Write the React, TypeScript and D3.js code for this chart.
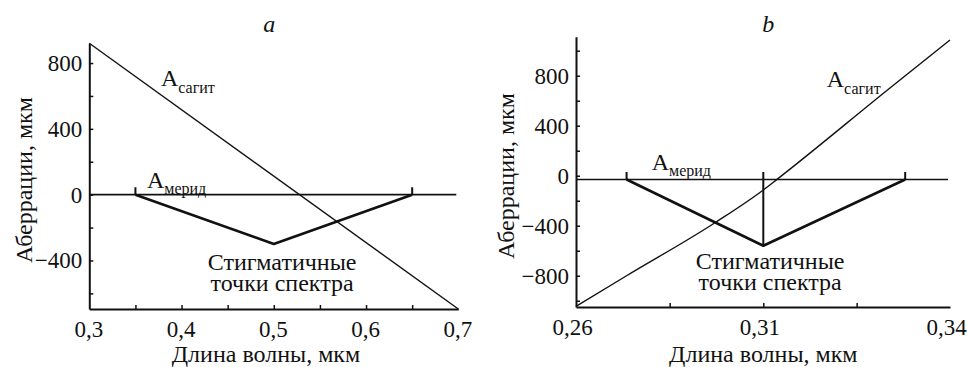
import { useEffect, useRef } from "react";
import * as d3 from "d3";

const SERIF = "Liberation Serif";
const INK = "#111";

// panel a data
const A_SAGIT_X = [0.3, 0.7];
const A_SAGIT_Y = [920, -695];
const A_MERID_X = [0.35, 0.5, 0.65];
const A_MERID_Y = [0, -300, 0];
const A_X_TICKS = [0.35, 0.4, 0.45, 0.5, 0.55, 0.6, 0.65];
const A_X_LABEL_VALUES = [0.3, 0.4, 0.5, 0.6, 0.7];
const A_X_LABELS = ["0,3", "0,4", "0,5", "0,6", "0,7"];
const A_Y_TICKS = [-600, -400, -200, 0, 200, 400, 600, 800];
const A_Y_LABEL_VALUES = [-400, 0, 400, 800];
const A_Y_LABELS = ["−400", "0", "400", "800"];

// panel b data
const B_SAGIT_X = [0.26, 0.2735, 0.2971, 0.31, 0.3122, 0.3306, 0.34];
const B_SAGIT_Y = [-1045, -800, -376, -114, -29, 712, 1086];
const B_MERID_X = [0.2735, 0.31, 0.3328];
const B_MERID_Y = [-30, -560, -30];
const B_X_TICKS = [0.285, 0.31, 0.325];
const B_X_LABEL_VALUES = [0.26, 0.31, 0.34];
const B_X_LABELS = ["0,26", "0,31", "0,34"];
const B_Y_TICKS = [-1000, -800, -600, -400, -200, 0, 200, 400, 600, 800, 1000];
const B_Y_LABEL_VALUES = [-800, -400, 0, 400, 800];
const B_Y_LABELS = ["−800", "−400", "0", "400", "800"];

const PANELS = [
  {
    title: "a",
    xDomain: [0.3, 0.7],
    xRange: [89.3, 458.3],
    yDomain: [-695, 920],
    yRange: [309, 43.3],
    sagitX: A_SAGIT_X,
    sagitY: A_SAGIT_Y,
    meridX: A_MERID_X,
    meridY: A_MERID_Y,
    base: 0,
    endTick: 45,
    centerTop: null as number | null,
    xTicks: A_X_TICKS,
    xLabelValues: A_X_LABEL_VALUES,
    xLabels: A_X_LABELS,
    xLabelShift: -1,
    yTicks: A_Y_TICKS,
    yLabelValues: A_Y_LABEL_VALUES,
    yLabels: A_Y_LABELS,
    titleX: 0.495,
    axisTitleX: 0.4915,
    yTitlePos: [32, 180],
    sagitLabel: [0.3777, 661],
    meridLabel: [0.3625, 40],
    stigLabel: [0.509, -458],
  },
  {
    title: "b",
    xDomain: [0.26, 0.31, 0.34],
    xRange: [576, 763.3, 950],
    yDomain: [-1050, 1112],
    yRange: [307, 36.7],
    sagitX: B_SAGIT_X,
    sagitY: B_SAGIT_Y,
    meridX: B_MERID_X,
    meridY: B_MERID_Y,
    base: -30,
    endTick: 30,
    centerTop: 30 as number | null,
    xTicks: B_X_TICKS,
    xLabelValues: B_X_LABEL_VALUES,
    xLabels: B_X_LABELS,
    xLabelShift: -4,
    yTicks: B_Y_TICKS,
    yLabelValues: B_Y_LABEL_VALUES,
    yLabels: B_Y_LABELS,
    titleX: 0.3108,
    axisTitleX: 0.31,
    yTitlePos: [514, 176],
    sagitLabel: [0.3202, 712],
    meridLabel: [0.2802, 46],
    stigLabel: [0.3111, -750],
  },
];

type Cfg = (typeof PANELS)[number];

const txt = (size: number, extra: Record<string, string> = {}) => ({
  fontFamily: SERIF,
  fontSize: `${size}px`,
  ...extra,
});

const Panel = ({ cfg }: { cfg: Cfg }) => {
  const axesRef = useRef(null);
  const x = d3.scaleLinear().domain(cfg.xDomain).range(cfg.xRange);
  const y = d3.scaleLinear().domain(cfg.yDomain).range(cfg.yRange);
  const x0 = cfg.xRange[0];
  const y0 = cfg.yRange[0];

  useEffect(() => {
    const g = d3.select(axesRef.current);
    g.selectAll("*").remove();

    // tick marks point into the plot
    g.append("g")
      .attr("transform", `translate(0,${y0})`)
      .call(d3.axisBottom(x).tickValues(cfg.xTicks).tickSize(-4).tickSizeOuter(0).tickFormat(() => ""));
    g.append("g")
      .attr("transform", `translate(${x0},0)`)
      .call(d3.axisLeft(y).tickValues(cfg.yTicks).tickSize(-4).tickSizeOuter(0).tickFormat(() => ""));

    // labels
    const xl = g.append("g")
      .attr("transform", `translate(${cfg.xLabelShift},${y0})`)
      .call(d3.axisBottom(x).tickValues(cfg.xLabelValues).tickSize(0).tickPadding(12)
        .tickFormat((_d, i) => cfg.xLabels[i]));
    xl.select(".domain").remove();
    const yl = g.append("g")
      .attr("transform", `translate(${x0},0)`)
      .call(d3.axisLeft(y).tickValues(cfg.yLabelValues).tickSize(0).tickPadding(7)
        .tickFormat((_d, i) => cfg.yLabels[i]));
    yl.select(".domain").remove();

    g.selectAll("g").attr("color", INK);
    g.selectAll(".domain").attr("stroke-width", 2);
    g.selectAll(".tick line").attr("stroke-width", 1.5);
    g.selectAll("text")
      .style("font-family", SERIF)
      .style("font-size", "23px")
      .attr("fill", INK);
  }, [cfg]);

  const sagitPath = d3.line<[number, number]>()
    .x((d) => x(d[0]))
    .y((d) => y(d[1]))
    .curve(d3.curveMonotoneX)(cfg.sagitX.map((v, i) => [v, cfg.sagitY[i]]));
  const meridPath = d3.line<[number, number]>()
    .x((d) => x(d[0]))
    .y((d) => y(d[1]))(cfg.meridX.map((v, i) => [v, cfg.meridY[i]]));

  const [sx, sy] = cfg.sagitLabel;
  const [mx, my] = cfg.meridLabel;
  const [tx, ty] = cfg.stigLabel;
  const left = cfg.meridX[0];
  const right = cfg.meridX[cfg.meridX.length - 1];
  const mid = cfg.meridX[1];

  return (
    <g>
      {/* horizontal reference line */}
      <line x1={x0} x2={cfg.xRange[cfg.xRange.length - 1] - 2} y1={y(cfg.base)} y2={y(cfg.base)}
        stroke={INK} strokeWidth={1.6} />
      {/* end marks of the meridional curve */}
      {[left, right].map((v) => (
        <line key={v} x1={x(v)} x2={x(v)} y1={y(cfg.base)} y2={y(cfg.endTick)} stroke={INK} strokeWidth={2} />
      ))}
      {cfg.centerTop !== null && (
        <line x1={x(mid)} x2={x(mid)} y1={y(cfg.centerTop)} y2={y(cfg.meridY[1])} stroke={INK} strokeWidth={2} />
      )}
      <path d={meridPath ?? ""} fill="none" stroke={INK} strokeWidth={2.6} strokeLinejoin="round" />
      <path d={sagitPath ?? ""} fill="none" stroke={INK} strokeWidth={1.4} />
      <g ref={axesRef} />

      <g fill={INK}>
        <text x={x(cfg.titleX)} y={31.7} style={txt(24, { fontStyle: "italic" })} textAnchor="middle">
          {cfg.title}
        </text>
        <text x={x(sx)} y={y(sy)} style={txt(24)}>
          A<tspan style={txt(16)} dy={7}>сагит</tspan>
        </text>
        <text x={x(mx)} y={y(my)} style={txt(24)}>
          A<tspan style={txt(16)} dy={6}>мерид</tspan>
        </text>
        <text x={x(tx)} y={y(ty)} style={txt(24)} textAnchor="middle">Стигматичные</text>
        <text x={x(tx)} y={y(ty) + 20.5} style={txt(24)} textAnchor="middle">точки спектра</text>
        <text x={x(cfg.axisTitleX)} y={362} style={txt(24)} textAnchor="middle">Длина волны, мкм</text>
        <text transform={`translate(${cfg.yTitlePos[0]},${cfg.yTitlePos[1]}) rotate(-90)`} style={txt(24)}
          textAnchor="middle">Аберрации, мкм</text>
      </g>
    </g>
  );
};

export default function App() {
  return (
    <svg width={967} height={367} style={{ position: "absolute", left: 0, top: 0, background: "#fff" }}>
      <rect width={967} height={367} fill="#fff" />
      {PANELS.map((p) => (
        <Panel key={p.title} cfg={p} />
      ))}
    </svg>
  );
}
